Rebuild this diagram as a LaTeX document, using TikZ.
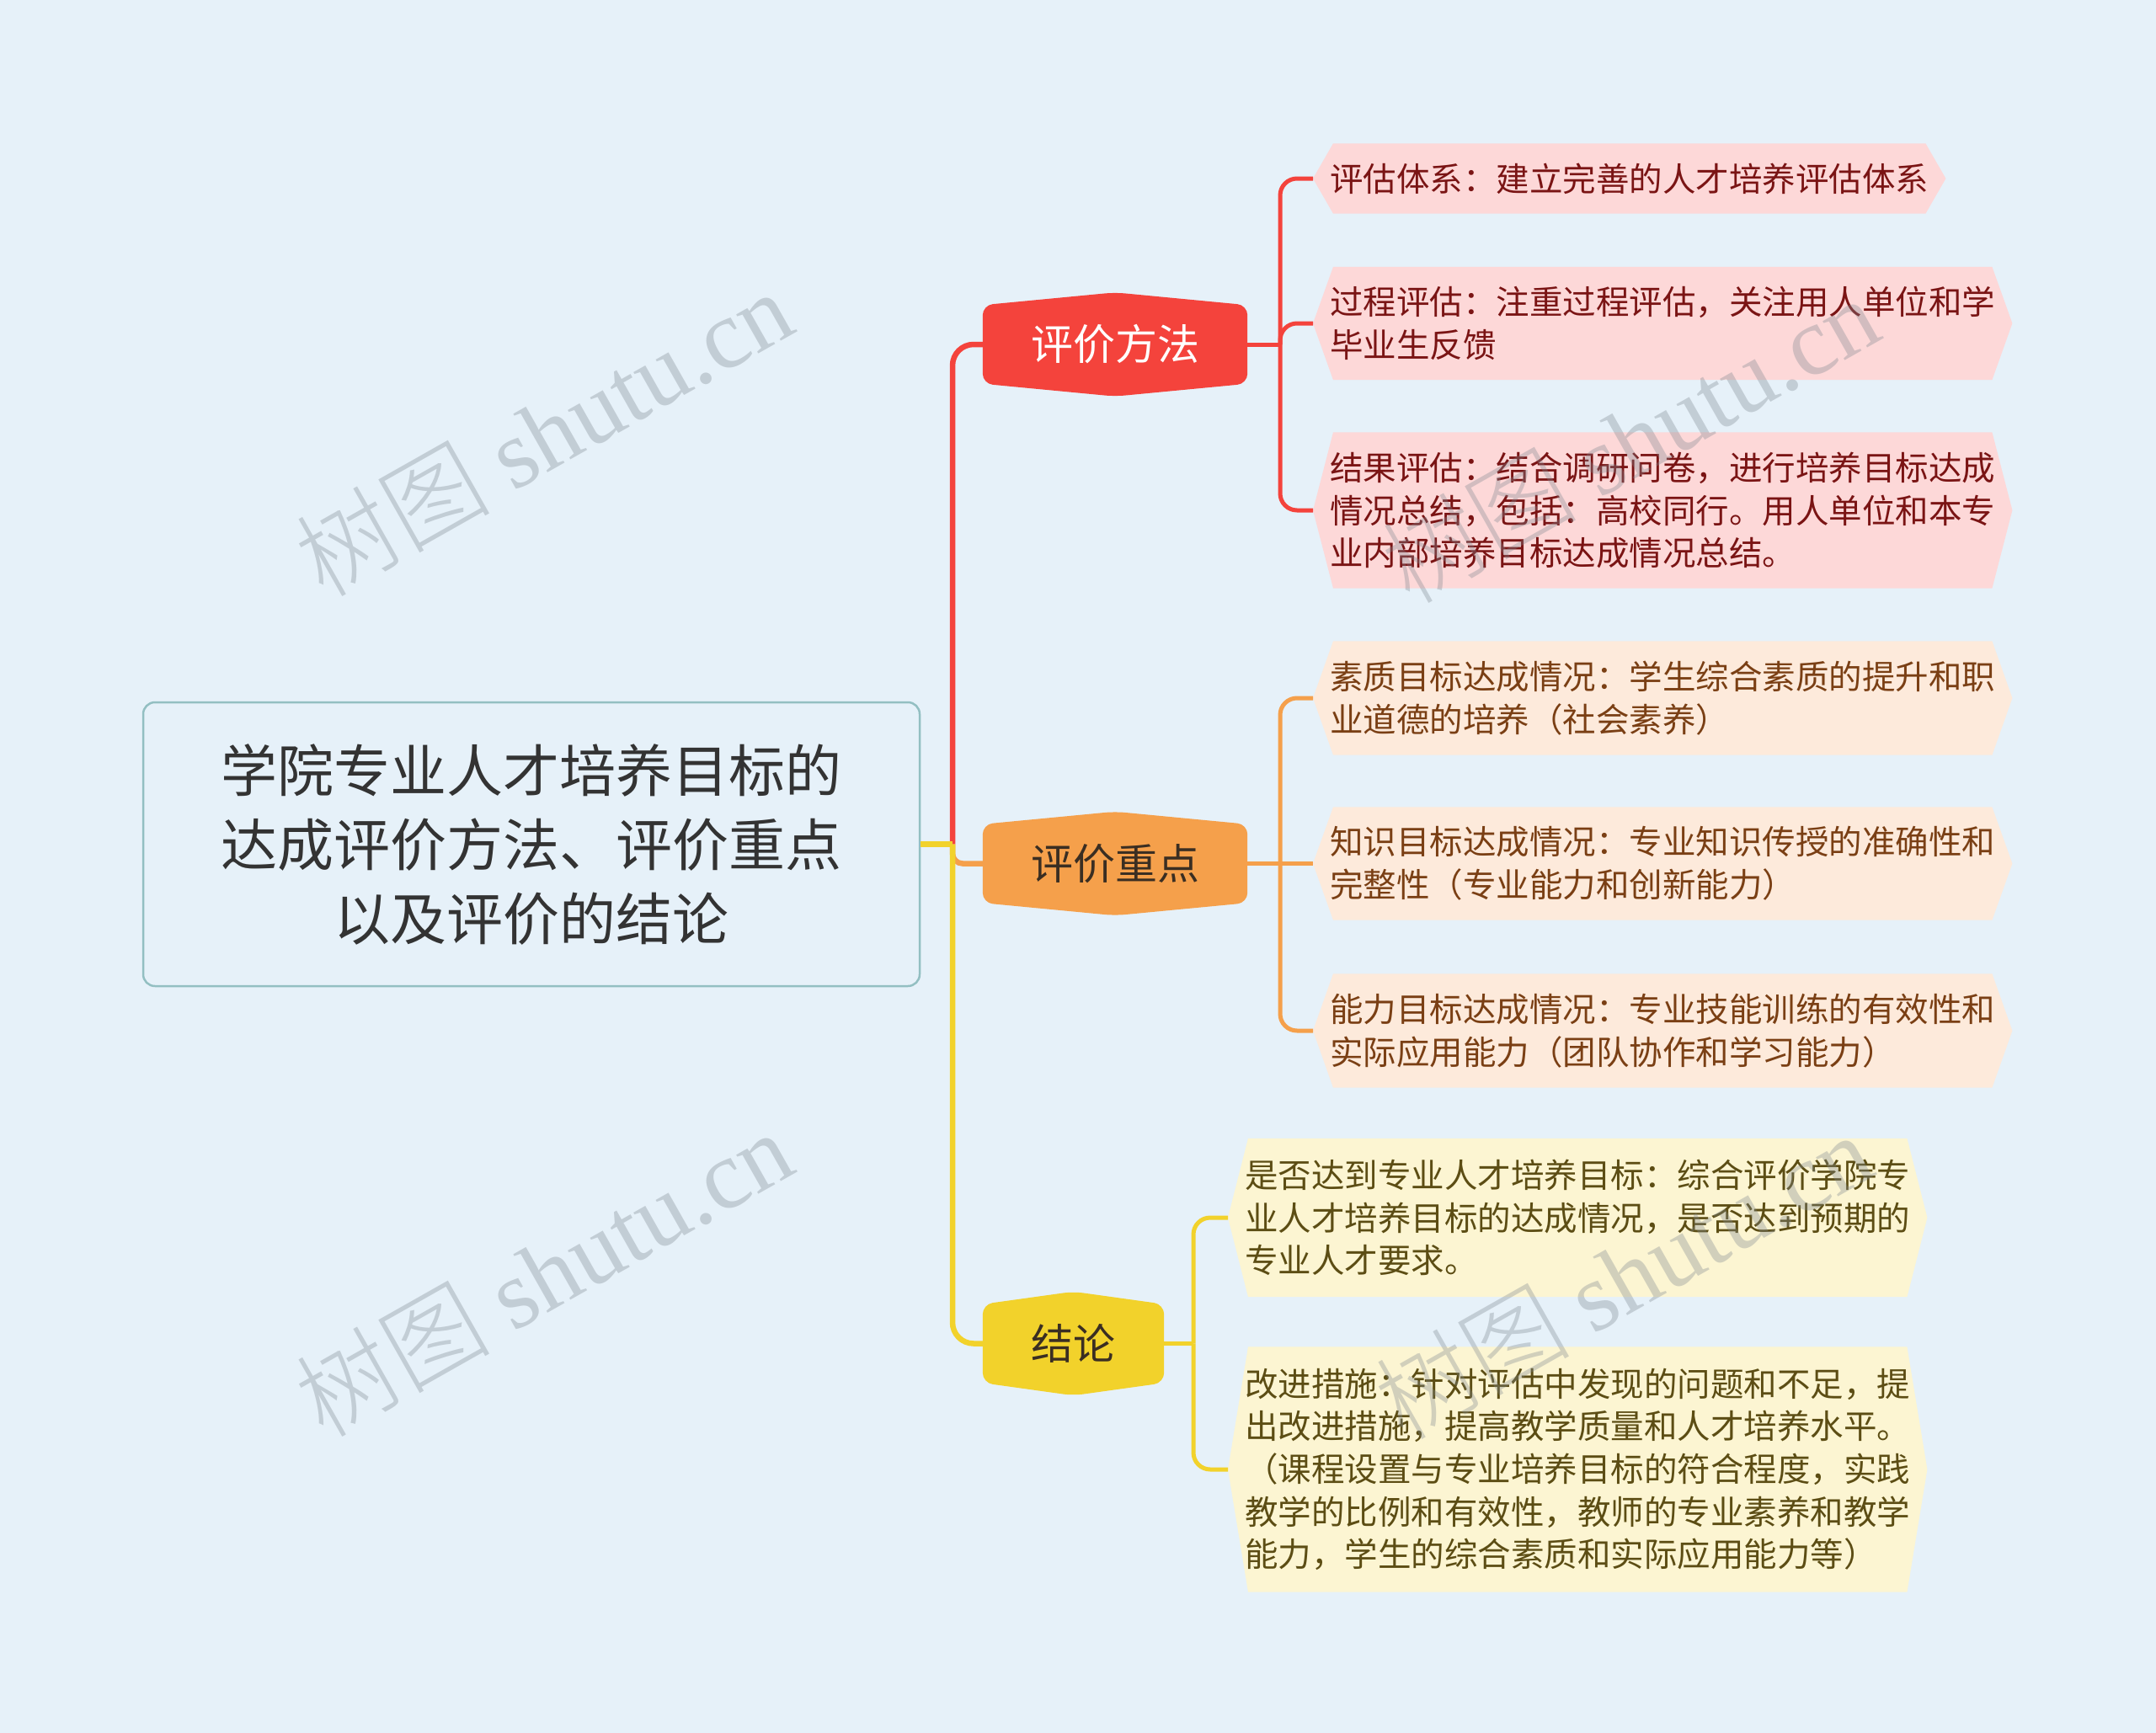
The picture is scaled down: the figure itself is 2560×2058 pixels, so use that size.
\documentclass[tikz,border=0pt]{standalone}
\usepackage{fontspec}
\setmainfont{Noto Sans CJK SC}
\newfontfamily\wmfont{Liberation Serif}
\newfontfamily\wmcjk{Noto Sans CJK SC Light}
\usetikzlibrary{calc,backgrounds}
\definecolor{bgc}{HTML}{E6F1F9}
\definecolor{rootline}{HTML}{93BFC2}
\definecolor{rootfill}{HTML}{E6F1F9}
\definecolor{textdark}{HTML}{333333}
\definecolor{cred}{HTML}{F4433C}
\definecolor{corange}{HTML}{F5A04B}
\definecolor{cyellow}{HTML}{F2D22B}
\definecolor{lred}{HTML}{FDD8D8}
\definecolor{lorange}{HTML}{FDEADB}
\definecolor{lyellow}{HTML}{FCF5D2}
\definecolor{tred}{HTML}{7A1414}
\definecolor{torange}{HTML}{7A3F14}
\definecolor{tyellow}{HTML}{5C4D14}
\definecolor{tbranch}{HTML}{3A2E22}
\definecolor{wmc}{HTML}{7F8890}
\newcommand\branchshape[2]{%
  \begin{scope}[on background layer]
  \fill[#2, rounded corners=12] (#1.north west) -- ($(#1.north)+(0,-15)$) -- (#1.north east) -- (#1.south east) -- ($(#1.south)+(0,15)$) -- (#1.south west) -- cycle;
  \end{scope}}
\newcommand\leafshape[2]{%
  \begin{scope}[on background layer]
  \fill[#2] (#1.west) -- ($(#1.north west)+(24,0)$) -- ($(#1.north east)+(-24,0)$) -- (#1.east) -- ($(#1.south east)+(-24,0)$) -- ($(#1.south west)+(24,0)$) -- cycle;
  \end{scope}}
\begin{document}
\begin{tikzpicture}[x=1pt,y=-1pt,
  rootbox/.style={draw=rootline, line width=2.5, fill=rootfill, rounded corners=14, minimum width=922, minimum height=337, align=center, inner sep=0, font=\fontsize{67}{88}\selectfont, text=textdark},
  branch/.style={minimum height=93, inner sep=0, font=\fontsize{50}{60}\selectfont},
  leaf/.style={anchor=west, inner xsep=20, inner ysep=0, align=left, font=\fontsize{39.5}{50.6}\selectfont},
  mainline/.style={line width=6.5, rounded corners=25},
  leafline/.style={line width=5, rounded corners=20},
  wm/.style={text=wmc, text opacity=0.34, font=\fontsize{116}{124}\selectfont, inner sep=0}
]
\begin{scope}[on background layer]
\fill[bgc] (0,0) rectangle (2560,2058);
\end{scope}
\useasboundingbox (0,0) rectangle (2560,2058);

% root
\node[rootbox] (root) at (631,1002.5) {学院专业人才培养目标的\\达成评价方法、评价重点\\以及评价的结论};

% branches
\node[branch, minimum width=314, text=white] (b1) at (1324,409) {评价方法};
\branchshape{b1}{cred}
\node[branch, minimum width=314, text=tbranch] (b2) at (1324,1025.5) {评价重点};
\branchshape{b2}{corange}
\node[branch, minimum width=215, text=tbranch] (b3) at (1274.5,1595.5) {结论};
\branchshape{b3}{cyellow}

% leaves
\node[leaf, minimum height=83, text=tred] (l1) at (1559,212) {评估体系：建立完善的人才培养评估体系};
\leafshape{l1}{lred}
\node[leaf, minimum height=134, text=tred] (l2) at (1559,384) {过程评估：注重过程评估，关注用人单位和学\\毕业生反馈};
\leafshape{l2}{lred}
\node[leaf, minimum height=185, text=tred] (l3) at (1559,606) {结果评估：结合调研问卷，进行培养目标达成\\情况总结，包括：高校同行。用人单位和本专\\业内部培养目标达成情况总结。};
\leafshape{l3}{lred}
\node[leaf, minimum height=135, text=torange] (l4) at (1559,829) {素质目标达成情况：学生综合素质的提升和职\\业道德的培养（社会素养）};
\leafshape{l4}{lorange}
\node[leaf, minimum height=134, text=torange] (l5) at (1559,1025.5) {知识目标达成情况：专业知识传授的准确性和\\完整性（专业能力和创新能力）};
\leafshape{l5}{lorange}
\node[leaf, minimum height=135, text=torange] (l6) at (1559,1224) {能力目标达成情况：专业技能训练的有效性和\\实际应用能力（团队协作和学习能力）};
\leafshape{l6}{lorange}
\node[leaf, minimum height=188, text=tyellow] (l7) at (1458,1446) {是否达到专业人才培养目标：综合评价学院专\\业人才培养目标的达成情况，是否达到预期的\\专业人才要求。};
\leafshape{l7}{lyellow}
\node[leaf, minimum height=291, text=tyellow] (l8) at (1458,1745) {改进措施：针对评估中发现的问题和不足，提\\出改进措施，提高教学质量和人才培养水平。\\（课程设置与专业培养目标的符合程度，实践\\教学的比例和有效性，教师的专业素养和教学\\能力，学生的综合素质和实际应用能力等）};
\leafshape{l8}{lyellow}

% main connectors
\coordinate (j) at (1131,1002.5);
\draw[mainline, cred] (j) |- (b1.west);
\draw[mainline, corange, rounded corners=12] (j) |- (b2.west);
\draw[mainline, cyellow] (j) |- (b3.west);
\draw[mainline, cyellow] (root.east) -- (j);

% leaf connectors
\coordinate (j1) at (1520,409);
\draw[leafline, cred] (b1.east) -- (j1);
\draw[leafline, cred] (j1) |- (l1.west);
\draw[leafline, cred] (j1) |- (l2.west);
\draw[leafline, cred] (j1) |- (l3.west);
\coordinate (j2) at (1520,1025.5);
\draw[leafline, corange] (b2.east) -- (l5.west);
\draw[leafline, corange] (j2) |- (l4.west);
\draw[leafline, corange] (j2) |- (l6.west);
\coordinate (j3) at (1417,1595.5);
\draw[leafline, cyellow] (b3.east) -- (j3);
\draw[leafline, cyellow] (j3) |- (l7.west);
\draw[leafline, cyellow] (j3) |- (l8.west);

% watermarks
\node[wm, rotate=29.5] (w1) at (645,514) {{\wmcjk 树图} {\wmfont shutu.cn}};
\node[wm, rotate=29.5] (w2) at (645,1512) {{\wmcjk 树图} {\wmfont shutu.cn}};
\node[wm, rotate=29.5] (w3) at (1935,522) {{\wmcjk 树图} {\wmfont shutu.cn}};
\node[wm, rotate=29.5] (w4) at (1927,1515) {{\wmcjk 树图} {\wmfont shutu.cn}};
\end{tikzpicture}
\end{document}
